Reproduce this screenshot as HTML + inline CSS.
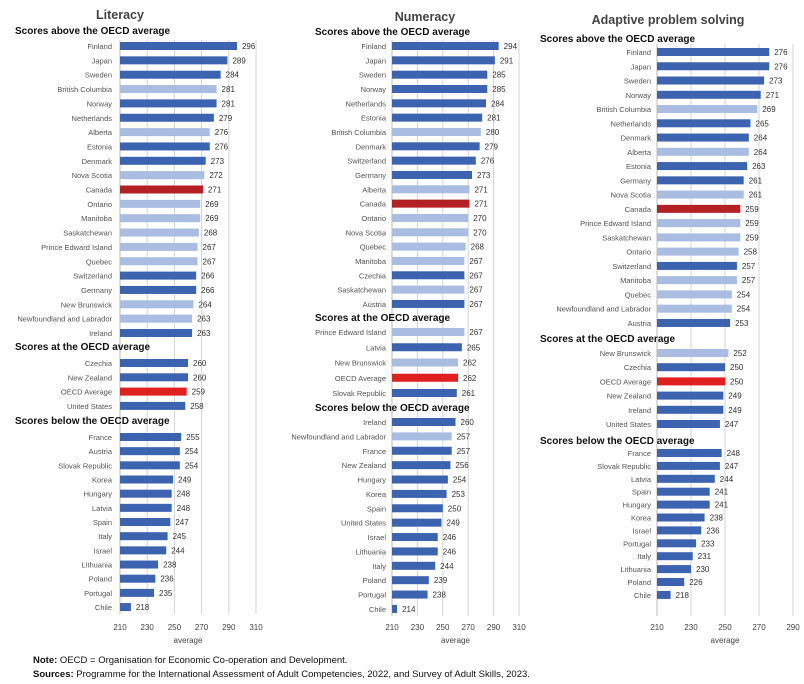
<!DOCTYPE html>
<html><head><meta charset="utf-8">
<style>
body{margin:0;background:#fff;width:804px;height:684px;overflow:hidden;font-family:"Liberation Sans",sans-serif;}
svg text{font-family:"Liberation Sans",sans-serif;}
.note{position:absolute;left:33px;font-size:9.5px;color:#111;}
</style></head>
<body>
<svg id="chart" width="804" height="684" style="position:absolute;left:0;top:0"></svg>
<div class="note" style="top:655px"><b>Note:</b> OECD = Organisation for Economic Co-operation and Development.</div>
<div class="note" style="top:669px"><b>Sources:</b> Programme for the International Assessment of Adult Competencies, 2022, and Survey of Adult Skills, 2023.</div>
<script>
// ---- Literacy data
const litAboveNames=["Finland","Japan","Sweden","British Columbia","Norway","Netherlands","Alberta","Estonia","Denmark","Nova Scotia","Canada","Ontario","Manitoba","Saskatchewan","Prince Edward Island","Quebec","Switzerland","Germany","New Brunswick","Newfoundland and Labrador","Ireland"];
const litAboveValues=[296,289,284,281,281,279,276,276,273,272,271,269,269,268,267,267,266,266,264,263,263];
const litAtNames=["Czechia","New Zealand","OECD Average","United States"];
const litAtValues=[260,260,259,258];
const litBelowNames=["France","Austria","Slovak Republic","Korea","Hungary","Latvia","Spain","Italy","Israel","Lithuania","Poland","Portugal","Chile"];
const litBelowValues=[255,254,254,249,248,248,247,245,244,238,236,235,218];
// ---- Numeracy data
const numAboveNames=["Finland","Japan","Sweden","Norway","Netherlands","Estonia","British Columbia","Denmark","Switzerland","Germany","Alberta","Canada","Ontario","Nova Scotia","Quebec","Manitoba","Czechia","Saskatchewan","Austria"];
const numAboveValues=[294,291,285,285,284,281,280,279,276,273,271,271,270,270,268,267,267,267,267];
const numAtNames=["Prince Edward Island","Latvia","New Brunswick","OECD Average","Slovak Republic"];
const numAtValues=[267,265,262,262,261];
const numBelowNames=["Ireland","Newfoundland and Labrador","France","New Zealand","Hungary","Korea","Spain","United States","Israel","Lithuania","Italy","Poland","Portugal","Chile"];
const numBelowValues=[260,257,257,256,254,253,250,249,246,246,244,239,238,214];
// ---- Adaptive problem solving data
const apsAboveNames=["Finland","Japan","Sweden","Norway","British Columbia","Netherlands","Denmark","Alberta","Estonia","Germany","Nova Scotia","Canada","Prince Edward Island","Saskatchewan","Ontario","Switzerland","Manitoba","Quebec","Newfoundland and Labrador","Austria"];
const apsAboveValues=[276,276,273,271,269,265,264,264,263,261,261,259,259,259,258,257,257,254,254,253];
const apsAtNames=["New Brunswick","Czechia","OECD Average","New Zealand","Ireland","United States"];
const apsAtValues=[252,250,250,249,249,247];
const apsBelowNames=["France","Slovak Republic","Latvia","Spain","Hungary","Korea","Israel","Portugal","Italy","Lithuania","Poland","Chile"];
const apsBelowValues=[248,247,244,241,241,238,236,233,231,230,226,218];
const litTicks=[210,230,250,270,290,310];
const numTicks=[210,230,250,270,290,310];
const apsTicks=[210,230,250,270,290];

const provinces=["British Columbia","Alberta","Nova Scotia","Ontario","Manitoba","Saskatchewan","Prince Edward Island","Quebec","New Brunswick","Newfoundland and Labrador"];
const NS="http://www.w3.org/2000/svg";
const svg=document.getElementById('chart');
function mk(tag,attrs,parent){const e=document.createElementNS(NS,tag);for(const k in attrs)e.setAttribute(k,attrs[k]);(parent||svg).appendChild(e);return e;}
function txt(x,y,s,size,anchor,weight,fill,parent){const t=mk('text',{x:x,y:y,'font-size':size,'text-anchor':anchor,'font-weight':weight,fill:fill},parent);t.textContent=s;return t;}

const panels=[
 {key:'literacy',title:'Literacy',titleX:120,titleY:19,x0:120,k:1.36,labelR:112,ticks:litTicks,gridTop:40,gridBot:614,hx:15,
  groups:[{h:'Scores above the OECD average',hy:34,names:litAboveNames,vals:litAboveValues,start:46,step:14.35},
          {h:'Scores at the OECD average',hy:350,names:litAtNames,vals:litAtValues,start:363,step:14.3},
          {h:'Scores below the OECD average',hy:424,names:litBelowNames,vals:litBelowValues,start:437,step:14.17}]},
 {key:'numeracy',title:'Numeracy',titleX:425,titleY:21,x0:392,k:1.27,labelR:386,ticks:numTicks,gridTop:40,gridBot:616,hx:315,
  groups:[{h:'Scores above the OECD average',hy:35,names:numAboveNames,vals:numAboveValues,start:46,step:14.33},
          {h:'Scores at the OECD average',hy:321,names:numAtNames,vals:numAtValues,start:332,step:15.25},
          {h:'Scores below the OECD average',hy:411,names:numBelowNames,vals:numBelowValues,start:422,step:14.38}]},
 {key:'aps',title:'Adaptive problem solving',titleX:668,titleY:24,x0:657,k:1.7,labelR:651,ticks:apsTicks,gridTop:44,gridBot:616,hx:540,
  groups:[{h:'Scores above the OECD average',hy:42,names:apsAboveNames,vals:apsAboveValues,start:52,step:14.26},
          {h:'Scores at the OECD average',hy:342,names:apsAtNames,vals:apsAtValues,start:353,step:14.2},
          {h:'Scores below the OECD average',hy:444,names:apsBelowNames,vals:apsBelowValues,start:453,step:12.9}]}
];

panels.forEach(p=>{
  const g=mk('g',{});
  
  
  const X=v=>p.x0+(v-p.ticks[0])*p.k;
  // gridlines
  p.ticks.forEach((t,i)=>{
    const l=mk('line',{x1:X(t),x2:X(t),y1:p.gridTop,y2:p.gridBot,stroke:i===0?'#bbb':'#d4d4d4','stroke-width':1},g);
    
    
    const tl=txt(X(t),630,String(t),8,'middle','normal','#444',g);
    
    
  });
  const mid=(X(p.ticks[0])+X(p.ticks[p.ticks.length-1]))/2;
  const ax=txt(mid,643,'average',8,'middle','normal','#444',g);
  
  
  const tt=txt(p.titleX,p.titleY,p.title,12.5,'middle','bold','#444',g);
  
  
  p.groups.forEach(gr=>{
    const h=txt(p.hx,gr.hy,gr.h,10,'start','bold','#111',g);
    
    
    gr.names.forEach((n,i)=>{
      const v=gr.vals[i];
      const y=gr.start+i*gr.step;
      let col='#3b63b0';
      if(provinces.includes(n))col='#a9bde2';
      if(n==='Canada')col='#b42125';
      if(n==='OECD Average')col='#e0201e';
      const r=mk('rect',{x:X(p.ticks[0]),y:y-4,width:Math.max(0,X(v)-X(p.ticks[0])),height:8,fill:col},g);
      
      
      const lb=txt(p.labelR,y+3,n,7.5,'end','normal','#555',g);
      
      
      const vl=txt(X(v)+5,y+3,String(v),8,'start','normal','#333',g);
      
      
    });
  });
});
</script>
</body></html>
